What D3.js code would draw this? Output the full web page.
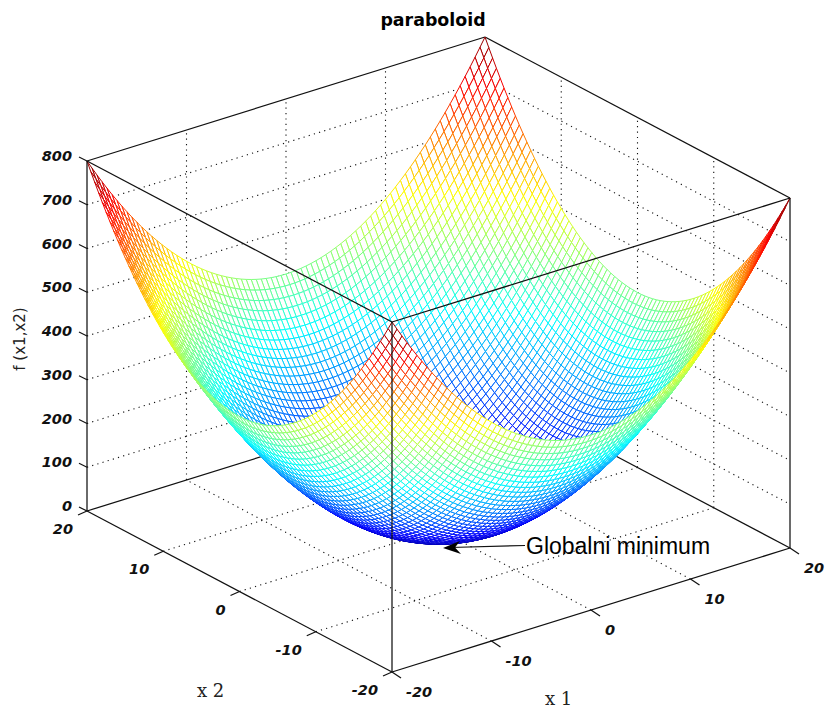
<!DOCTYPE html>
<html>
<head>
<meta charset="utf-8">
<title>paraboloid</title>
<script src="https://cdn.jsdelivr.net/npm/d3@7"></script>
<style>
  html, body { margin: 0; padding: 0; background: #fff; }
  svg { display: block; }
  .tick-label { font-family: "DejaVu Sans", sans-serif; font-size: 14.5px; font-weight: bold; font-style: italic; fill: #111; }
  .axis-label { font-family: "DejaVu Serif", serif; font-size: 18px; fill: #222; }
</style>
</head>
<body>
<svg width="826" height="708"></svg>
<script>
// mesh coordinates, the same for x1 and x2
var gridValues = [
  -20, -19.5, -19, -18.5, -18, -17.5, -17, -16.5, -16, -15.5, -15, -14.5, -14, -13.5,
  -13, -12.5, -12, -11.5, -11, -10.5, -10, -9.5, -9, -8.5, -8, -7.5, -7, -6.5, -6, -5.5,
  -5, -4.5, -4, -3.5, -3, -2.5, -2, -1.5, -1, -0.5, 0, 0.5, 1, 1.5, 2, 2.5, 3, 3.5, 4,
  4.5, 5, 5.5, 6, 6.5, 7, 7.5, 8, 8.5, 9, 9.5, 10, 10.5, 11, 11.5, 12, 12.5, 13, 13.5,
  14, 14.5, 15, 15.5, 16, 16.5, 17, 17.5, 18, 18.5, 19, 19.5, 20
];
// height contributed by one coordinate, a surface point is the sum of two of these
var heightProfile = [
  400, 380.25, 361, 342.25, 324, 306.25, 289, 272.25, 256, 240.25, 225, 210.25, 196, 182.25,
  169, 156.25, 144, 132.25, 121, 110.25, 100, 90.25, 81, 72.25, 64, 56.25, 49, 42.25, 36, 30.25,
  25, 20.25, 16, 12.25, 9, 6.25, 4, 2.25, 1, 0.25, 0, 0.25, 1, 2.25, 4, 6.25, 9, 12.25, 16,
  20.25, 25, 30.25, 36, 42.25, 49, 56.25, 64, 72.25, 81, 90.25, 100, 110.25, 121, 132.25, 144, 156.25, 169, 182.25,
  196, 210.25, 225, 240.25, 256, 272.25, 289, 306.25, 324, 342.25, 361, 380.25, 400
];
var x1Ticks = [-20, -10, 0, 10, 20];
var x2Ticks = [-20, -10, 0, 10, 20];
var zTicks = [0, 100, 200, 300, 400, 500, 600, 700, 800];
var jetStops = ["#00008f", "#0000ff", "#00ffff", "#7fff7f", "#ffff00", "#ff0000", "#800000"];
var jetDomain = [0, 100, 300, 400, 500, 700, 800];

var svg = d3.select("svg");

// the box is an orthographic view, so each axis adds a fixed screen shift
var x1ScreenX = d3.scaleLinear().domain([-20, 20]).range([0, 398]);
var x1ScreenY = d3.scaleLinear().domain([-20, 20]).range([0, -124]);
var x2ScreenX = d3.scaleLinear().domain([-20, 20]).range([0, -305]);
var x2ScreenY = d3.scaleLinear().domain([-20, 20]).range([0, -161]);
var zScreenY = d3.scaleLinear().domain([0, 800]).range([0, -350]);
var jet = d3.scaleLinear().domain(jetDomain).range(jetStops);

var originX = 392, originY = 672;

function project(x1, x2, z) {
  return [originX + x1ScreenX(x1) + x2ScreenX(x2),
          originY + x1ScreenY(x1) + x2ScreenY(x2) + zScreenY(z)];
}

function addLine(g, a, b, cls) {
  g.append("line")
    .attr("class", cls)
    .attr("x1", a[0]).attr("y1", a[1])
    .attr("x2", b[0]).attr("y2", b[1]);
}

// walls and floor behind the surface
var back = svg.append("g");
var inner = function(d) { return d > -20 && d < 20; };

x1Ticks.filter(inner).forEach(function(t) {
  addLine(back, project(t, -20, 0), project(t, 20, 0), "grid");
  addLine(back, project(t, 20, 0), project(t, 20, 800), "grid");
});
x2Ticks.filter(inner).forEach(function(t) {
  addLine(back, project(-20, t, 0), project(20, t, 0), "grid");
  addLine(back, project(20, t, 0), project(20, t, 800), "grid");
});
zTicks.filter(function(d) { return d > 0 && d < 800; }).forEach(function(t) {
  addLine(back, project(-20, 20, t), project(20, 20, t), "grid");
  addLine(back, project(20, 20, t), project(20, -20, t), "grid");
});
back.selectAll(".grid")
  .attr("stroke", "#111")
  .attr("stroke-width", 1.1)
  .attr("stroke-dasharray", "1.2,4.2");

addLine(back, project(-20, 20, 0), project(20, 20, 0), "edge");
addLine(back, project(20, 20, 0), project(20, -20, 0), "edge");
addLine(back, project(20, 20, 0), project(20, 20, 800), "edge");
addLine(back, project(-20, 20, 800), project(20, 20, 800), "edge");
addLine(back, project(20, 20, 800), project(20, -20, 800), "edge");

// mesh cells, painted from the far corner to the near one
var cells = [];
for (var i = 0; i < gridValues.length - 1; i++) {
  for (var j = 0; j < gridValues.length - 1; j++) {
    cells.push({i: i, j: j});
  }
}
cells.sort(function(a, b) { return (b.i + b.j) - (a.i + a.j); });

function vertex(i, j) {
  return project(gridValues[i], gridValues[j], heightProfile[i] + heightProfile[j]);
}

svg.append("g").selectAll("path")
  .data(cells)
  .enter().append("path")
  .attr("d", function(d) {
    return "M" + [vertex(d.i, d.j), vertex(d.i + 1, d.j), vertex(d.i + 1, d.j + 1), vertex(d.i, d.j + 1)]
      .map(function(p) { return p[0].toFixed(2) + "," + p[1].toFixed(2); }).join("L") + "Z";
  })
  .attr("fill", "#fff")
  .attr("stroke", function(d) {
    return jet((heightProfile[d.i] + heightProfile[d.j] + heightProfile[d.i + 1] + heightProfile[d.j + 1]) / 2);
  })
  .attr("stroke-width", 1);

// front box edges and ticks
var front = svg.append("g");
addLine(front, project(-20, -20, 0), project(-20, -20, 800), "edge");
addLine(front, project(-20, 20, 0), project(-20, 20, 800), "edge");
addLine(front, project(20, -20, 0), project(20, -20, 800), "edge");
addLine(front, project(-20, -20, 800), project(-20, 20, 800), "edge");
addLine(front, project(-20, -20, 800), project(20, -20, 800), "edge");
addLine(front, project(-20, -20, 0), project(-20, 20, 0), "edge");
addLine(front, project(-20, -20, 0), project(20, -20, 0), "edge");

function addTick(a, dx, dy) {
  addLine(front, a, [a[0] + dx, a[1] + dy], "edge");
}
function addLabel(a, dx, dy, anchor, text) {
  svg.append("text")
    .attr("class", "tick-label")
    .attr("x", a[0] + dx)
    .attr("y", a[1] + dy)
    .attr("text-anchor", anchor)
    .text(text);
}
function tickText(d) { return d < 0 ? "-" + Math.abs(d) : d; }

zTicks.forEach(function(t) {
  var p = project(-20, 20, t);
  addTick(p, -8, -4);
  addLabel(p, -15, 0, "end", tickText(t));
});
x2Ticks.forEach(function(t) {
  var p = project(-20, t, 0);
  addTick(p, -9, 4);
  addLabel(p, -14, 23, "end", tickText(t));
});
x1Ticks.forEach(function(t) {
  var p = project(t, -20, 0);
  addTick(p, 9, 6);
  addLabel(p, 14, 25, "start", tickText(t));
});

svg.selectAll(".edge")
  .attr("stroke", "#111")
  .attr("stroke-width", 1.25);

svg.append("text")
  .attr("x", 433).attr("y", 25.5)
  .attr("text-anchor", "middle")
  .attr("font-family", "DejaVu Sans, sans-serif")
  .attr("font-size", 17.4)
  .attr("font-weight", "bold")
  .attr("fill", "#000")
  .text("paraboloid");

svg.append("text").attr("class", "axis-label")
  .attr("x", 197).attr("y", 697).text("x 2");
svg.append("text").attr("class", "axis-label")
  .attr("x", 545).attr("y", 705).text("x 1");
svg.append("text").attr("class", "axis-label")
  .attr("transform", "translate(25,339) rotate(-90)")
  .attr("text-anchor", "middle")
  .attr("font-family", "DejaVu Sans, sans-serif")
  .style("font-family", "DejaVu Sans, sans-serif")
  .style("font-size", "15px")
  .text("f (x1,x2)");

// annotation
svg.append("line")
  .attr("x1", 525).attr("y1", 545.5)
  .attr("x2", 450).attr("y2", 547.5)
  .attr("stroke", "#111").attr("stroke-width", 1.2);
svg.append("path")
  .attr("d", "M443,548 L460,541 L455,547.5 L461,554 Z")
  .attr("fill", "#000");
svg.append("text")
  .attr("x", 526).attr("y", 553.5)
  .attr("font-family", "Liberation Sans, Arial, sans-serif")
  .attr("font-size", 23)
  .attr("fill", "#000")
  .text("Globalni minimum");
</script>
</body>
</html>
